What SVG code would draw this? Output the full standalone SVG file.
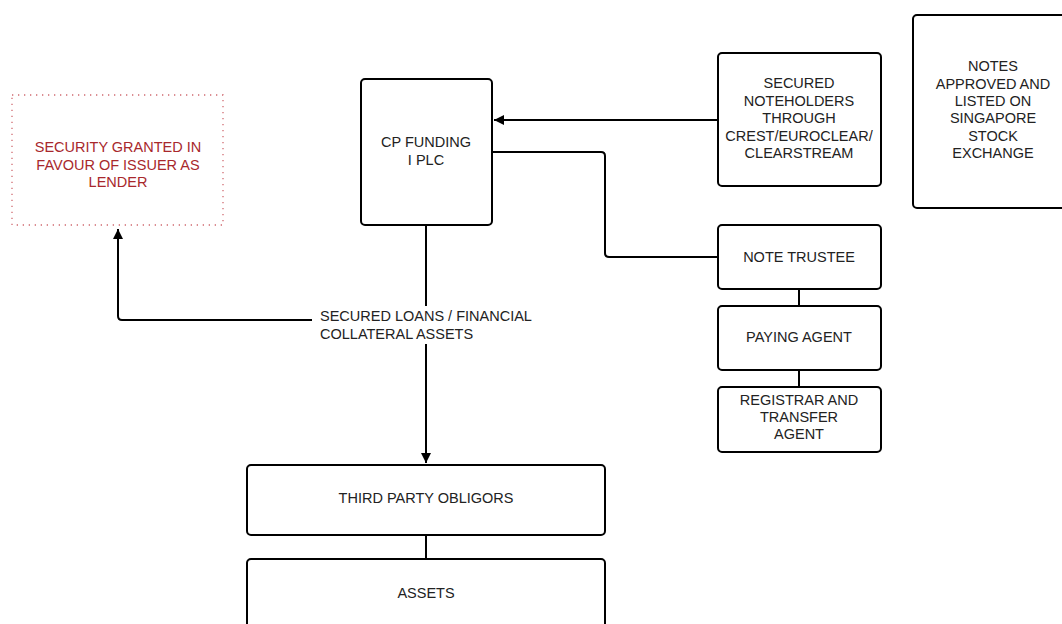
<svg xmlns="http://www.w3.org/2000/svg" width="1062" height="624" viewBox="0 0 1062 624">
<defs>
<marker id="arr" viewBox="0 0 10 10" refX="10" refY="5" markerWidth="11" markerHeight="10" markerUnits="userSpaceOnUse" orient="auto">
<path d="M0,0 L10,5 L0,10 z" fill="#000"/>
</marker>
<style>
.box{fill:#fff;stroke:#000;stroke-width:2}
.t{font-family:"Liberation Sans",Arial,sans-serif;font-size:14.5px;fill:#222;text-anchor:middle}
.red{fill:#a8282c}
.ln{fill:none;stroke:#000;stroke-width:2}
</style>
</defs>
<rect width="1062" height="624" fill="#fff"/>
<g id="connectors">
<path class="ln" d="M718,120 H494" marker-end="url(#arr)"/>
<path class="ln" d="M492,152 H601 Q605,152 605,156 V253 Q605,257 609,257 H718"/>
<path class="ln" d="M426,225 V306"/>
<path class="ln" d="M426,344 V463" marker-end="url(#arr)"/>
<path class="ln" d="M312,320 H122 Q118,320 118,316 V229" marker-end="url(#arr)"/>
<path class="ln" d="M799,289 V306"/>
<path class="ln" d="M799,370 V387"/>
<path class="ln" d="M426,535 V559"/>
<text class="t" style="text-anchor:start"><tspan x="320" y="321">SECURED LOANS / FINANCIAL</tspan><tspan x="320" y="339">COLLATERAL ASSETS</tspan></text>
</g>
<g id="security">
<rect x="12" y="95" width="211" height="130" fill="#fff" stroke="#d06a70" stroke-width="1.3" stroke-dasharray="1.3 4.7"/>
<text class="t red"><tspan x="118" y="152">SECURITY GRANTED IN</tspan><tspan x="118" y="170">FAVOUR OF ISSUER AS</tspan><tspan x="118" y="187">LENDER</tspan></text>
</g>
<g id="cpfunding">
<rect class="box" x="361" y="79" width="131" height="146" rx="4"/>
<text class="t"><tspan x="426" y="147">CP FUNDING</tspan><tspan x="426" y="165">I PLC</tspan></text>
</g>
<g id="noteholders">
<rect class="box" x="718" y="53" width="163" height="133" rx="4"/>
<text class="t"><tspan x="799" y="88">SECURED</tspan><tspan x="799" y="106">NOTEHOLDERS</tspan><tspan x="799" y="123">THROUGH</tspan><tspan x="799" y="141">CREST/EUROCLEAR/</tspan><tspan x="799" y="158">CLEARSTREAM</tspan></text>
</g>
<g id="notes-approved">
<rect class="box" x="913" y="15" width="160" height="193" rx="4"/>
<text class="t"><tspan x="993" y="71">NOTES</tspan><tspan x="993" y="89">APPROVED AND</tspan><tspan x="993" y="106">LISTED ON</tspan><tspan x="993" y="123">SINGAPORE</tspan><tspan x="993" y="141">STOCK</tspan><tspan x="993" y="158">EXCHANGE</tspan></text>
</g>
<g id="note-trustee">
<rect class="box" x="718" y="225" width="163" height="64" rx="4"/>
<text class="t" x="799" y="262">NOTE TRUSTEE</text>
</g>
<g id="paying-agent">
<rect class="box" x="718" y="306" width="163" height="64" rx="4"/>
<text class="t" x="799" y="342">PAYING AGENT</text>
</g>
<g id="registrar">
<rect class="box" x="718" y="387" width="163" height="65" rx="4"/>
<text class="t"><tspan x="799" y="405">REGISTRAR AND</tspan><tspan x="799" y="422">TRANSFER</tspan><tspan x="799" y="439">AGENT</tspan></text>
</g>
<g id="third-party">
<rect class="box" x="247" y="465" width="358" height="70" rx="4"/>
<text class="t" x="426" y="503">THIRD PARTY OBLIGORS</text>
</g>
<g id="assets">
<rect class="box" x="247" y="559" width="358" height="80" rx="4"/>
<text class="t" x="426" y="598">ASSETS</text>
</g>
</svg>
